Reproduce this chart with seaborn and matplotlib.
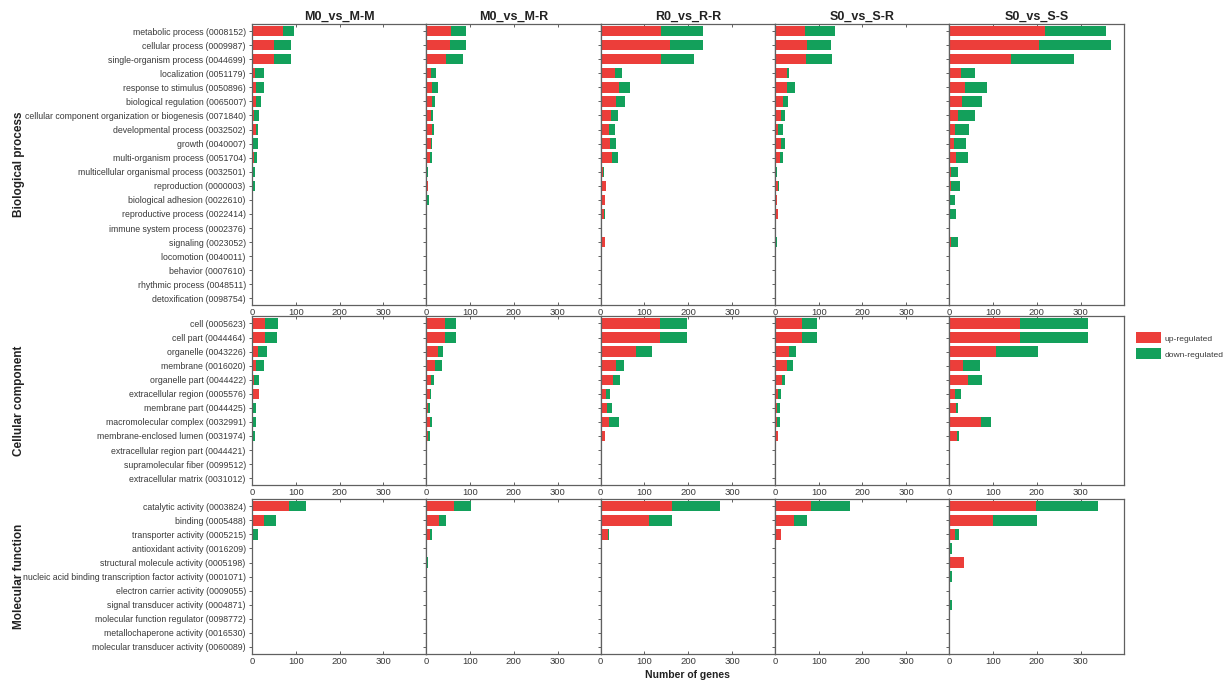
import matplotlib
matplotlib.use("Agg")
import matplotlib.pyplot as plt
from matplotlib.patches import Patch
import seaborn as sns
import pandas as pd

# ---- data -------------------------------------------------------------
comparisons = ["M0_vs_M-M", "M0_vs_M-R", "R0_vs_R-R", "S0_vs_S-R", "S0_vs_S-S"]

bp_terms = [
    "metabolic process (0008152)",
    "cellular process (0009987)",
    "single-organism process (0044699)",
    "localization (0051179)",
    "response to stimulus (0050896)",
    "biological regulation (0065007)",
    "cellular component organization or biogenesis (0071840)",
    "developmental process (0032502)",
    "growth (0040007)",
    "multi-organism process (0051704)",
    "multicellular organismal process (0032501)",
    "reproduction (0000003)",
    "biological adhesion (0022610)",
    "reproductive process (0022414)",
    "immune system process (0002376)",
    "signaling (0023052)",
    "locomotion (0040011)",
    "behavior (0007610)",
    "rhythmic process (0048511)",
    "detoxification (0098754)",
]
cc_terms = [
    "cell (0005623)",
    "cell part (0044464)",
    "organelle (0043226)",
    "membrane (0016020)",
    "organelle part (0044422)",
    "extracellular region (0005576)",
    "membrane part (0044425)",
    "macromolecular complex (0032991)",
    "membrane-enclosed lumen (0031974)",
    "extracellular region part (0044421)",
    "supramolecular fiber (0099512)",
    "extracellular matrix (0031012)",
]
mf_terms = [
    "catalytic activity (0003824)",
    "binding (0005488)",
    "transporter activity (0005215)",
    "antioxidant activity (0016209)",
    "structural molecule activity (0005198)",
    "nucleic acid binding transcription factor activity (0001071)",
    "electron carrier activity (0009055)",
    "signal transducer activity (0004871)",
    "molecular function regulator (0098772)",
    "metallochaperone activity (0016530)",
    "molecular transducer activity (0060089)",
]

bp_up = {
    "M0_vs_M-M": [70, 51, 51, 6, 9, 8, 4, 8, 3, 5, 2, 3, 1, 1, 0, 0, 0, 0, 0, 0],
    "M0_vs_M-R": [57, 55, 45, 10, 14, 13, 11, 12, 10, 8, 2, 4, 2, 1, 0, 1, 0, 0, 0, 0],
    "R0_vs_R-R": [138, 159, 139, 32, 43, 36, 23, 20, 21, 25, 5, 12, 9, 8, 0, 10, 0, 0, 0, 0],
    "S0_vs_S-R": [68, 73, 70, 27, 28, 19, 13, 8, 14, 11, 2, 8, 4, 6, 0, 2, 1, 0, 0, 0],
    "S0_vs_S-S": [219, 206, 142, 28, 36, 29, 21, 14, 10, 15, 4, 5, 1, 2, 0, 4, 1, 0, 0, 0],
}
bp_down = {
    "M0_vs_M-M": [27, 39, 39, 22, 18, 13, 11, 6, 10, 6, 4, 3, 1, 1, 1, 0, 0, 0, 0, 0],
    "M0_vs_M-R": [34, 36, 39, 13, 13, 7, 5, 5, 4, 6, 2, 1, 4, 1, 0, 0, 0, 0, 0, 0],
    "R0_vs_R-R": [96, 74, 74, 18, 23, 20, 17, 13, 15, 15, 3, 1, 1, 1, 0, 1, 0, 0, 0, 0],
    "S0_vs_S-R": [70, 54, 60, 6, 18, 12, 9, 11, 8, 8, 3, 2, 1, 2, 0, 2, 0, 0, 0, 0],
    "S0_vs_S-S": [140, 164, 142, 30, 50, 47, 38, 31, 29, 28, 15, 20, 12, 13, 0, 15, 0, 0, 0, 0],
}
cc_up = {
    "M0_vs_M-M": [30, 30, 14, 9, 5, 16, 2, 2, 3, 0, 0, 0],
    "M0_vs_M-R": [43, 43, 27, 20, 11, 8, 5, 8, 4, 0, 0, 0],
    "R0_vs_R-R": [136, 136, 81, 36, 28, 13, 15, 20, 9, 0, 0, 0],
    "S0_vs_S-R": [61, 61, 33, 27, 17, 8, 5, 4, 6, 0, 0, 0],
    "S0_vs_S-S": [162, 162, 108, 32, 42, 13, 15, 73, 17, 0, 0, 0],
}
cc_down = {
    "M0_vs_M-M": [29, 28, 20, 18, 12, 1, 8, 7, 4, 1, 0, 0],
    "M0_vs_M-R": [24, 24, 12, 15, 6, 3, 3, 4, 4, 1, 0, 0],
    "R0_vs_R-R": [62, 61, 36, 18, 17, 9, 10, 21, 1, 1, 0, 0],
    "S0_vs_S-R": [36, 36, 15, 15, 6, 6, 6, 7, 2, 1, 0, 0],
    "S0_vs_S-S": [156, 156, 94, 38, 32, 15, 5, 23, 6, 1, 1, 1],
}
mf_up = {
    "M0_vs_M-M": [85, 28, 3, 0, 0, 0, 0, 0, 0, 0, 0],
    "M0_vs_M-R": [63, 30, 9, 0, 2, 0, 0, 0, 0, 0, 0],
    "R0_vs_R-R": [164, 110, 18, 0, 0, 0, 0, 2, 0, 0, 0],
    "S0_vs_S-R": [83, 43, 14, 0, 0, 0, 0, 0, 0, 0, 0],
    "S0_vs_S-S": [198, 100, 13, 1, 33, 1, 0, 1, 0, 0, 0],
}
mf_down = {
    "M0_vs_M-M": [38, 26, 11, 1, 1, 0, 0, 0, 0, 0, 0],
    "M0_vs_M-R": [39, 15, 3, 1, 1, 0, 0, 0, 0, 0, 0],
    "R0_vs_R-R": [109, 54, 1, 0, 4, 1, 1, 0, 1, 0, 0],
    "S0_vs_S-R": [89, 31, 0, 1, 0, 0, 0, 0, 0, 0, 0],
    "S0_vs_S-S": [141, 100, 10, 6, 0, 6, 1, 6, 0, 0, 0],
}

ontologies = [
    ("Biological process", bp_terms, bp_up, bp_down),
    ("Cellular component", cc_terms, cc_up, cc_down),
    ("Molecular function", mf_terms, mf_up, mf_down),
]

UP_COLOR = "#EC3E3A"
DOWN_COLOR = "#13A05B"
SPINE_COLOR = "#606060"
TEXT_COLOR = "#3a3a3a"

# ---- style ------------------------------------------------------------
sns.set_style("ticks")
plt.rcParams["font.family"] = ["Liberation Sans", "DejaVu Sans"]

W, H = 1224, 680
fig = plt.figure(figsize=(W / 100, H / 100), dpi=100)

# panel geometry in pixels
left0 = 252.0
col_w = 174.3
top0 = 24.0
unit = 14.07
gaps = [11.0, 14.0]

y_top = top0
for r, (onto, terms, up, down) in enumerate(ontologies):
    n = len(terms)
    h = n * unit
    for c, comp in enumerate(comparisons):
        x = left0 + c * col_w
        ax = fig.add_axes([x / W, 1 - (y_top + h) / H, col_w / W, h / H])
        df = pd.DataFrame({
            "term": terms,
            "up": up[comp],
            "down": down[comp],
        })
        df["total"] = df["up"] + df["down"]
        # stacked: full bar in the down colour, up segment drawn over it
        sns.barplot(data=df, x="total", y="term", orient="h", color=DOWN_COLOR,
                    saturation=1, width=0.74, linewidth=0, ax=ax, order=terms)
        sns.barplot(data=df, x="up", y="term", orient="h", color=UP_COLOR,
                    saturation=1, width=0.74, linewidth=0, ax=ax, order=terms)
        ax.set_xlim(0, 398)
        ax.set_ylim(n - 0.5, -0.5)
        ax.set_xlabel("")
        ax.set_ylabel("")
        ax.set_xticks([0, 100, 200, 300])
        ax.tick_params(axis="x", which="both", direction="in", top=True,
                       bottom=True, length=2.5, width=0.7, labelsize=6.8,
                       labelcolor=TEXT_COLOR, color=SPINE_COLOR, pad=2)
        ax.tick_params(axis="y", direction="out", length=2.5, width=0.7,
                       labelsize=6.3, labelcolor=TEXT_COLOR,
                       color=SPINE_COLOR, pad=2)
        if c != 0:
            ax.set_yticklabels([])
        for sp in ax.spines.values():
            sp.set_visible(True)
            sp.set_color(SPINE_COLOR)
            sp.set_linewidth(0.9)
        if r == 0:
            ax.set_title(comp, fontsize=9, fontweight="bold", pad=3,
                         color="#222222")
        if r == len(ontologies) - 1 and c == 2:
            ax.set_xlabel("Number of genes", fontsize=7.5, fontweight="bold",
                          color="#222222", labelpad=3)
    fig.text(19 / W, 1 - (y_top + h / 2) / H, onto, rotation=90,
             ha="center", va="center", fontsize=8.5, fontweight="bold",
             color="#222222")
    y_top += h + (gaps[r] if r < len(gaps) else 0)

handles = [Patch(facecolor=UP_COLOR, edgecolor="none", label="up-regulated"),
           Patch(facecolor=DOWN_COLOR, edgecolor="none", label="down-regulated")]
fig.legend(handles=handles, loc="upper left",
           bbox_to_anchor=(1133 / W, 1 - 329 / H), frameon=False,
           fontsize=6.1, handlelength=2.9, handleheight=1.6,
           handletextpad=0.45, labelspacing=0.6, borderaxespad=0,
           labelcolor=TEXT_COLOR)

fig.savefig("out.png", dpi=100)
